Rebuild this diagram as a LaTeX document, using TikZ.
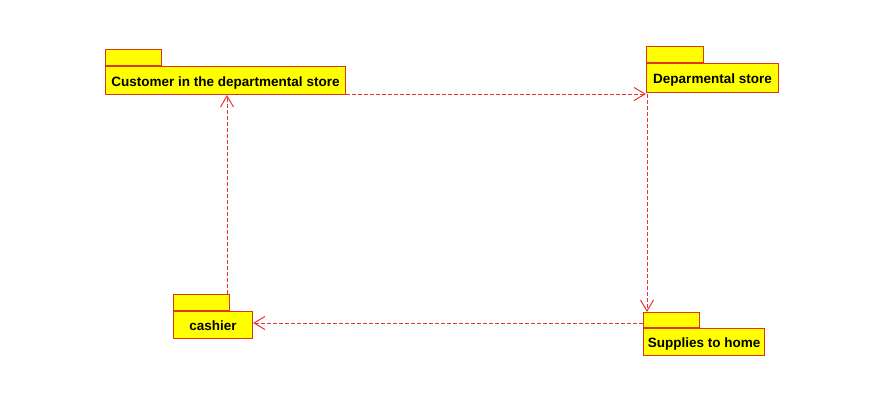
\documentclass[tikz,border=0pt]{standalone}
\usepackage{fontspec}
\setmainfont{Liberation Sans}
\usetikzlibrary{arrows.meta}
\definecolor{pkyellow}{RGB}{255,255,0}
\definecolor{pkborder}{RGB}{220,55,20}
\definecolor{deprd}{RGB}{235,50,50}
\begin{document}
\begin{tikzpicture}[x=1pt,y=-1pt,
  pkgbody/.style={draw=pkborder, fill=pkyellow, line width=1pt, inner sep=0pt, anchor=north west,
    font=\bfseries\fontsize{13.5}{15}\selectfont, text depth=0pt},
  pkgtab/.style={draw=pkborder, fill=pkyellow, line width=1pt, inner sep=0pt, anchor=south west, minimum height=16pt},
  dep/.style={draw=deprd, line width=1pt, dash pattern=on 4pt off 2pt, -{Straight Barb[length=11pt,width=13pt,line width=1pt]}}]
\useasboundingbox (0,0) rectangle (890,415);
% Customer
\node[pkgbody, minimum width=240pt, minimum height=28pt] (c1) at (105,66) {\raisebox{-2pt}{Customer in the departmental store}};
\node[pkgtab, minimum width=56pt] (c1t) at (c1.north west) {};
% Departmental store
\node[pkgbody, minimum width=132pt, minimum height=29pt] (d1) at (646,63) {\raisebox{-2pt}{Deparmental store}};
\node[pkgtab, minimum width=57pt] (d1t) at (d1.north west) {};
% cashier
\node[pkgbody, minimum width=79pt, minimum height=27pt] (k1) at (173,311) {\raisebox{-2pt}{cashier}};
\node[pkgtab, minimum width=56pt] (k1t) at (k1.north west) {};
% Supplies
\node[pkgbody, minimum width=121pt, minimum height=27pt] (s1) at (643,328) {\raisebox{-2pt}{Supplies to home}};
\node[pkgtab, minimum width=56pt, minimum height=15pt] (s1t) at (s1.north west) {};
% connector end points
\coordinate (sL) at ([yshift=5pt]s1t.south west);
\coordinate (kT) at ([xshift=-3pt]k1t.north east);
% connectors
\draw[dep] ([yshift=1pt]c1.south east) -- ([yshift=-1pt]d1.south west);
\draw[dep] ([xshift=1pt,yshift=-1pt]d1.south west) -- ([xshift=4pt]s1t.north west);
\draw[dep] (sL) -- (k1.east |- sL);
\draw[dep] (kT) -- (c1.south -| kT);
\end{tikzpicture}
\end{document}
